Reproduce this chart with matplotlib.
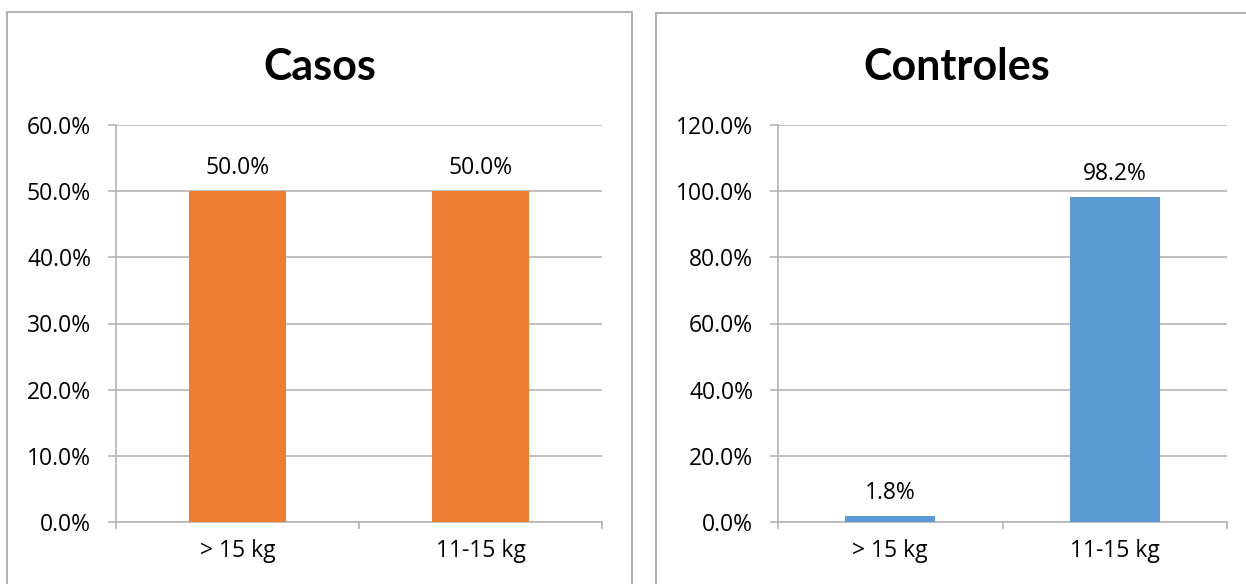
import matplotlib
matplotlib.use("Agg")
import matplotlib.pyplot as plt
from matplotlib.patches import Rectangle
from matplotlib.ticker import FuncFormatter, FixedLocator

# Data
categories = ["> 15 kg", "11-15 kg"]
casos_values = [50.0, 50.0]
controles_values = [1.8, 98.2]
casos_ticks = [0, 10, 20, 30, 40, 50, 60]
controles_ticks = [0, 20, 40, 60, 80, 100, 120]

plt.rcParams["font.family"] = ["Open Sans", "DejaVu Sans"]

W, H = 1246, 584
fig = plt.figure(figsize=(W / 100, H / 100), dpi=100)

GRID = "#B4B4B4"
BORDER = "#A9A9A9"
TEXT = "#000000"
LABEL_SIZE = 16.5


def px_rect(x0, y0, x1, y1):
    return [x0 / W, 1 - y1 / H, (x1 - x0) / W, (y1 - y0) / H]


# Panel frames
for (x0, y0, x1, y1) in [(7, 12, 632, 640), (656, 13, 1258, 640)]:
    fig.patches.append(Rectangle((x0 / W, 1 - y1 / H), (x1 - x0) / W, (y1 - y0) / H,
                                 transform=fig.transFigure, fill=False,
                                 edgecolor=BORDER, linewidth=1.3))


def draw_panel(rect, values, ticks, color, title, title_x):
    ax = fig.add_axes(px_rect(*rect))
    x = list(range(len(categories)))
    ax.bar(x, values, width=0.4, color=color, zorder=3)
    ax.set_xlim(-0.5, len(categories) - 0.5)
    ax.set_ylim(ticks[0], ticks[-1])
    ax.yaxis.set_major_locator(FixedLocator(ticks))
    ax.yaxis.set_major_formatter(FuncFormatter(lambda v, p: f"{v:.1f}%"))
    ax.grid(axis="y", color=GRID, linewidth=1.2, zorder=0)
    ax.set_axisbelow(True)
    for s in ["top", "right"]:
        ax.spines[s].set_visible(False)
    for s in ["left", "bottom"]:
        ax.spines[s].set_color(GRID)
        ax.spines[s].set_linewidth(1.2)
    ax.tick_params(axis="y", length=6, width=1.2, color=GRID, pad=12,
                   labelsize=LABEL_SIZE, labelcolor=TEXT)
    ax.set_xticks(x)
    ax.set_xticklabels(categories)
    ax.tick_params(axis="x", which="major", length=0, pad=12, labelsize=LABEL_SIZE,
                   labelcolor=TEXT)
    ax.set_xticks([-0.5 + i for i in range(len(categories) + 1)], minor=True)
    ax.tick_params(axis="x", which="minor", length=5, width=1.2, color=GRID,
                   direction="out")
    for xi, v in zip(x, values):
        ax.annotate(f"{v:.1f}%", (xi, v), xytext=(0, 8), textcoords="offset points",
                    ha="center", va="bottom", fontsize=LABEL_SIZE, color=TEXT)
    fig.text(title_x / W, 1 - 80 / H, title, ha="center", va="baseline",
             fontsize=31, fontweight="bold", color=TEXT, family=["Lato", "DejaVu Sans"])
    return ax


draw_panel((116, 125, 602, 522), casos_values, casos_ticks, "#ED7D31", "Casos", 320)
draw_panel((778, 125, 1227, 522), controles_values, controles_ticks, "#5B9BD5",
           "Controles", 957)

fig.savefig("out.png", dpi=100, facecolor="white")
